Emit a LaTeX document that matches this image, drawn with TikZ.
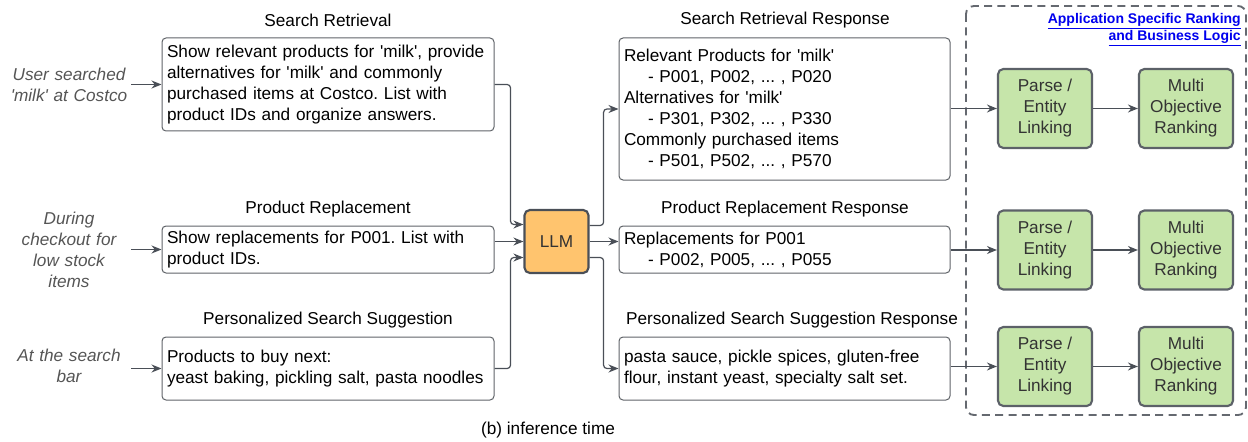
\documentclass[tikz,border=0pt]{standalone}
\usepackage{fontspec}
\setmainfont{Liberation Sans}
\usetikzlibrary{arrows.meta}
\definecolor{linegray}{HTML}{4A4F57}
\definecolor{boxgray}{HTML}{5F6368}
\definecolor{llmorange}{HTML}{FFC46E}
\definecolor{rankgreen}{HTML}{C6E5AA}
\definecolor{labelgray}{HTML}{555555}
\definecolor{linkblue}{HTML}{0000EE}
\newcommand{\qs}{\textquotesingle}
\frenchspacing
\begin{document}
\begin{tikzpicture}[x=0.75pt,y=-0.75pt,font=\fontsize{12.9}{15.75}\selectfont,
  >={Stealth[length=7.5pt,width=6pt]},
  conn/.style={->,draw=linegray,line width=0.9pt,rounded corners=2.5pt},
  src node/.style={text=labelgray,font=\fontsize{12.9}{15.75}\selectfont\itshape,align=center,text width=93pt,inner sep=0pt},
  title node/.style={inner sep=0pt},
  prompt box/.style={draw=boxgray,line width=0.75pt,rounded corners=3pt,align=left,text width=241.5pt,inner xsep=3.75pt,inner ysep=0pt},
  resp box/.style={prompt box,text width=240.75pt},
  llm node/.style={draw=linegray,line width=1.6pt,fill=llmorange,rounded corners=4pt,minimum width=48pt,minimum height=47.25pt,inner sep=0pt,text=black!80},
  rank node/.style={draw=linegray!90,line width=1.6pt,fill=rankgreen,rounded corners=4pt,minimum width=70.5pt,minimum height=59.25pt,inner sep=0pt,align=center,text=black!80}]
\useasboundingbox (0,0) rectangle (1248,442);

% inputs
\node[src node] (s1) at (69,85) {User searched\\\qs milk\qs{} at Costco};
\node[src node] (s2) at (69,250) {During\\checkout for\\low stock\\items};
\node[src node] (s3) at (69,366) {At the search\\bar};

% prompts
\node[title node] (t1) at (328,20) {Search Retrieval};
\node[prompt box,minimum height=69.75pt] (q1) at (328,84.5) {Show relevant products for \qs milk\qs, provide\\alternatives for \qs milk\qs{} and commonly\\purchased items at Costco. List with\\product IDs and organize answers.};
\node[title node] (t2) at (328,209) {Product Replacement};
\node[prompt box,minimum height=35.25pt] (q2) at (328,249.5) {Show replacements for P001. List with\\product IDs.};
\node[title node] (t3) at (328,320) {Personalized Search Suggestion};
\node[prompt box,minimum height=47.25pt] (q3) at (328,368.5) {Products to buy next:\\yeast baking, pickling salt, pasta noodles};

\node[llm node] (llm) at (556.5,241.5) {LLM};

% responses
\node[title node] (u1) at (785,20) {Search Retrieval Response};
\node[resp box,minimum height=106.5pt] (r1) at (784.5,109) {Relevant Products for \qs milk\qs\\\hspace*{18pt}- P001, P002, ... , P020\\Alternatives for \qs milk\qs\\\hspace*{18pt}- P301, P302, ... , P330\\Commonly purchased items\\\hspace*{18pt}- P501, P502, ... , P570};
\node[title node] (u2) at (785,209) {Product Replacement Response};
\node[resp box,minimum height=35.25pt] (r2) at (784.5,249.5) {Replacements for P001\\\hspace*{18pt}- P002, P005, ... , P055};
\node[title node] (u3) at (792,320) {Personalized Search Suggestion Response};
\node[resp box,minimum height=47.25pt] (r3) at (784.5,368.5) {pasta sauce, pickle spices, gluten-free\\flour, instant yeast, specialty salt set.};

% ranking block
\draw[draw=linegray!85,line width=1.4pt,dash pattern=on 6pt off 4pt,rounded corners=6pt] (966,6) rectangle (1246,415);
\node[anchor=east,align=right,text=linkblue,font=\fontsize{10.5}{12.75}\selectfont\bfseries,inner sep=0pt] (lbl) at (1241,30) {\underline{Application Specific Ranking}\\\underline{and Business Logic}};

\node[rank node] (p1) at (1045,108.5) {Parse /\\Entity\\Linking};
\node[rank node] (m1) at (1186,108.5) {Multi\\Objective\\Ranking};
\node[rank node] (p2) at (1045,250) {Parse /\\Entity\\Linking};
\node[rank node] (m2) at (1186,250) {Multi\\Objective\\Ranking};
\node[rank node] (p3) at (1045,366.5) {Parse /\\Entity\\Linking};
\node[rank node] (m3) at (1186,366.5) {Multi\\Objective\\Ranking};

\node[title node] (cap) at (548,430) {(b) inference time};

\draw[conn] (s1.east |- q1.west) -- (q1.west);
\draw[conn] (s2.east |- q2.west) -- (q2.west);
\draw[conn] (s3.east |- q3.west) -- (q3.west);

\draw[conn] (q1.east) -- ++(16,0) |- ([yshift=12.75pt]llm.west);
\draw[conn] (q2.east |- llm.west) -- (llm.west);
\draw[conn] (q3.east) -- ++(16,0) |- ([yshift=-12pt]llm.west);

\draw[conn] ([yshift=12pt]llm.east) -- ++(14,0) |- (r1.west);
\draw[conn] (llm.east) -- (r2.west |- llm.east);
\draw[conn] ([yshift=-12pt]llm.east) -- ++(14,0) |- (r3.west);

\draw[conn] (r1.east |- p1.west) -- (p1.west);
\draw[conn] (r2.east |- p2.west) -- (p2.west);
\draw[conn] (r3.east |- p3.west) -- (p3.west);
\draw[conn] (p1) -- (m1);
\draw[conn] (p2) -- (m2);
\draw[conn] (p3) -- (m3);
\end{tikzpicture}
\end{document}
